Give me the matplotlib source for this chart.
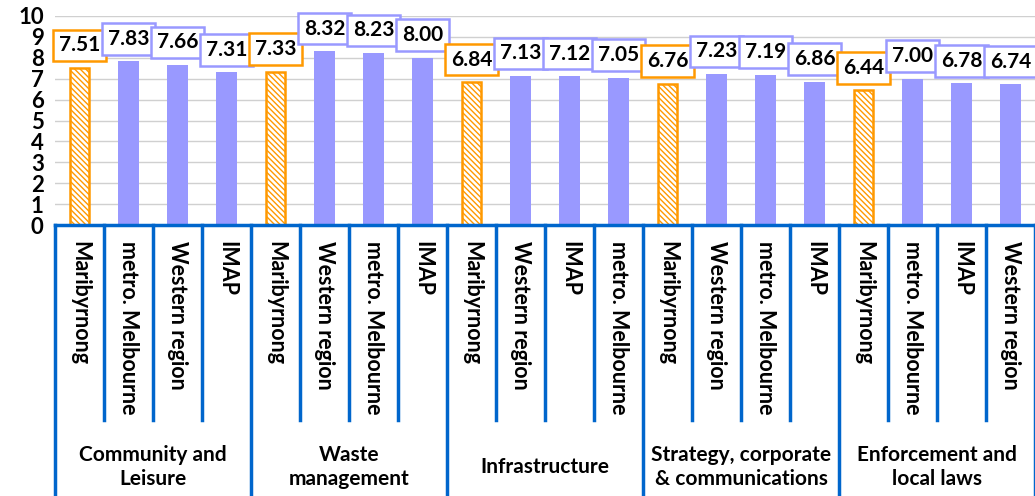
import matplotlib.pyplot as plt
import numpy as np

plt.rcParams['font.family'] = ['Lato', 'DejaVu Sans']
plt.rcParams['hatch.linewidth'] = 1.0

groups = ["Community and\nLeisure", "Waste\nmanagement", "Infrastructure",
          "Strategy, corporate\n& communications", "Enforcement and\nlocal laws"]
categories = [
    ["Maribyrnong", "metro. Melbourne", "Western region", "IMAP"],
    ["Maribyrnong", "Western region", "metro. Melbourne", "IMAP"],
    ["Maribyrnong", "Western region", "IMAP", "metro. Melbourne"],
    ["Maribyrnong", "Western region", "metro. Melbourne", "IMAP"],
    ["Maribyrnong", "metro. Melbourne", "IMAP", "Western region"],
]
values = [
    [7.51, 7.83, 7.66, 7.31],
    [7.33, 8.32, 8.23, 8.00],
    [6.84, 7.13, 7.12, 7.05],
    [6.76, 7.23, 7.19, 6.86],
    [6.44, 7.00, 6.78, 6.74],
]

orange = "#FF9900"
purple = "#9999FF"
blue = "#0066CC"

labels = [c for g in categories for c in g]
vals = [v for g in values for v in g]

fig = plt.figure(figsize=(10.35, 4.96), dpi=100)
ax = fig.add_axes([0.053, 0.546, 0.947, 0.422])

for i, (lab, v) in enumerate(zip(labels, vals)):
    if lab == "Maribyrnong":
        ax.bar(i, v, width=0.4, color="white", edgecolor=orange, hatch="\\\\\\\\\\\\",
               linewidth=1.8, zorder=2)
        ec = orange
    else:
        ax.bar(i, v, width=0.42, color=purple, zorder=2)
        ec = purple
    ax.annotate(f"{v:.2f}", xy=(i, v), xytext=(0, 9), textcoords="offset points",
                ha="center", va="bottom", fontsize=15, fontweight="bold",
                bbox=dict(boxstyle="square,pad=0.28", fc="white", ec=ec, lw=1.8),
                zorder=3)

ax.set_xlim(-0.5, len(vals) - 0.5)
ax.set_ylim(0, 10)
ax.set_yticks(range(0, 11))
ax.tick_params(axis="y", length=0, labelsize=16, pad=8)
for t in ax.get_yticklabels():
    t.set_fontweight("bold")
ax.set_xticks([])
ax.grid(axis="y", color="#D0D0D0", linewidth=1.0, zorder=0)
for s in ax.spines.values():
    s.set_visible(False)

# category axis: blue frame and labels
trans = ax.get_xaxis_transform()
ax.plot([-0.5, len(vals) - 0.5], [0, 0], color=blue, lw=2.5, transform=trans,
        clip_on=False, zorder=4)
for k in range(len(vals) + 1):
    xb = k - 0.5
    y1 = -1.3 if k % 4 == 0 else -0.93
    ax.plot([xb, xb], [0, y1], color=blue, lw=2.5, transform=trans, clip_on=False)
for i, lab in enumerate(labels):
    ax.text(i, -0.075, lab, rotation=270, ha="center", va="top", fontsize=15.5,
            fontweight="bold", transform=trans)
for gi, g in enumerate(groups):
    ax.text(gi * 4 + 1.5, -1.155, g, ha="center", va="center", fontsize=15,
            fontweight="bold", linespacing=1.3, transform=trans)

fig.savefig("out.png", dpi=100)
